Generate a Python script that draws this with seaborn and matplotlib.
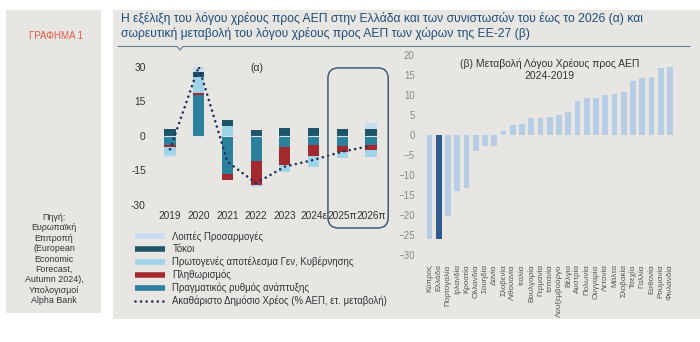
import numpy as np
import pandas as pd
import matplotlib
matplotlib.use("Agg")
import matplotlib.pyplot as plt
import seaborn as sns
from matplotlib.patches import Rectangle, FancyBboxPatch
from matplotlib.lines import Line2D

# ---- (a) debt-ratio decomposition for Greece, p.p. of GDP ----
years = ["2019", "2020", "2021", "2022", "2023", "2024ε", "2025π", "2026π"]
real_growth = [-3.9, 17.8, -16.7, -10.7, -4.6, -3.9, -4.2, -3.9]
inflation = [-1.0, 1.0, -2.5, -10.6, -8.2, -4.8, -2.6, -2.2]
primary_balance = [-3.3, 6.7, 4.5, -0.3, -2.9, -4.6, -2.9, -3.2]
interest = [2.9, 2.5, 2.5, 2.6, 3.3, 3.3, 2.9, 2.9]
other_adjustments = [-1.0, 2.0, 0.0, -0.7, 0.0, 0.0, 0.0, 2.6]
debt_change = [-5.8, 30.2, -11.2, -20.5, -13.3, -10.4, -6.8, -4.3]

# ---- (b) cumulative change of debt-to-GDP 2019-2024, EU-27 ----
countries = ["Κύπρος", "Ελλάδα", "Πορτογαλία", "Ιρλανδία", "Κροατία", "Ολλανδία",
             "Σουηδία", "Δανία", "Σλοβενία", "Λιθουανία", "Ιταλία", "Βουλγαρία",
             "Γερμανία", "Ισπανία", "Λουξεμβούργο", "Βέλγιο", "Αυστρία", "Πολωνία",
             "Ουγγαρία", "Λετονία", "Μάλτα", "Σλοβακία", "Τσεχία", "Γαλλία",
             "Εσθονία", "Ρουμανία", "Φινλανδία"]
cum_change = [-26.0, -26.0, -20.4, -13.9, -13.2, -4.1, -2.6, -2.6, 1.1, 2.6, 2.9, 4.3,
              4.3, 4.6, 5.1, 5.9, 8.6, 9.4, 9.4, 10.2, 10.4, 10.9, 13.6, 14.4,
              14.7, 16.9, 17.1]

lbl_other = "Λοιπές Προσαρμογές"
lbl_interest = "Τόκοι"
lbl_primary = "Πρωτογενές αποτέλεσμα Γεν, Κυβέρνησης"
lbl_infl = "Πληθωρισμός"
lbl_growth = "Πραγματικός ρυθμός ανάπτυξης"
lbl_debt = "Ακαθάριστο Δημόσιο Χρέος (% ΑΕΠ, ετ. μεταβολή)"

c_other = "#c8dcf0"
c_interest = "#1e5468"
c_primary = "#9fd3e7"
c_infl = "#a4292e"
c_growth = "#2b809c"
c_debt = "#1c2f5a"
c_bar = "#b7cde6"
c_greece = "#2e5a8c"
panel = "#e7e6e3"
text_dark = "#333333"

sns.set_theme(style="white")
plt.rcParams["font.family"] = ["Liberation Sans", "DejaVu Sans"]

W, H = 700, 342
fig = plt.figure(figsize=(W / 100, H / 100), dpi=100)
fig.patch.set_facecolor("white")


def fx(px):
    return px / W


def fy(py):
    return 1 - py / H


# background panels
fig.patches.append(Rectangle((fx(6), fy(313)), fx(95), (313 - 10) / H,
                             transform=fig.transFigure, facecolor=panel,
                             edgecolor="none", zorder=-10))
fig.patches.append(Rectangle((fx(113), fy(319)), fx(587), (319 - 10) / H,
                             transform=fig.transFigure, facecolor=panel,
                             edgecolor="none", zorder=-10))

fig.text(fx(56), fy(36), "ΓΡΑΦΗΜΑ 1", color="#e05a45", fontsize=7,
         ha="center", va="center")
fig.text(fx(54), fy(213), "Πηγή:\nΕυρωπαϊκή\nΕπιτροπή\n(European\nEconomic\n"
         "Forecast,\nAutumn 2024),\nΥπολογισμοί\nAlpha Bank",
         color=text_dark, fontsize=6.4, ha="center", va="top", linespacing=1.2)

fig.text(fx(121), fy(12),
         "Η εξέλιξη του λόγου χρέους προς ΑΕΠ στην Ελλάδα και των συνιστωσών του έως το 2026 (α) και\n"
         "σωρευτική μεταβολή του λόγου χρέους προς ΑΕΠ των χώρων της ΕΕ-27 (β)",
         color="#1f4e79", fontsize=8.7, ha="left", va="top", linespacing=1.18)
fig.lines.append(Line2D([fx(118), fx(177), fx(180), fx(183), fx(690)],
                        [fy(46.5), fy(46.5), fy(50), fy(46.5), fy(46.5)],
                        transform=fig.transFigure, color="#5f7c98", lw=0.8))

# ---- panel (a) ----
ax = fig.add_axes([0.2183, 0.4006, 0.3363, 0.4035])
ax.set_facecolor("none")
x = np.arange(len(years))
bw = 0.39
series = [(real_growth, c_growth), (inflation, c_infl), (primary_balance, c_primary),
          (interest, c_interest), (other_adjustments, c_other)]
pos_base = np.zeros(len(years))
neg_base = np.zeros(len(years))
for vals, col in series:
    v = np.asarray(vals, dtype=float)
    base = np.where(v >= 0, pos_base, neg_base)
    ax.bar(x, v, bottom=base, width=bw, color=col, linewidth=0, zorder=2)
    pos_base += np.clip(v, 0, None)
    neg_base += np.clip(v, None, 0)
ax.hlines(np.zeros(len(years)), x - bw / 2, x + bw / 2, color="#d8e4ec", lw=0.8, zorder=3)

sns.lineplot(x=x, y=debt_change, ax=ax, color=c_debt, lw=1.9,
             linestyle=(0, (0.01, 2.1)), dash_capstyle="round", zorder=4)

ax.set_xlim(-0.6, len(years) - 0.4)
ax.set_ylim(-30, 30)
ax.set_yticks([-30, -15, 0, 15, 30])
ax.set_yticklabels(["-30", "-15", "0", "15", "30"])
ax.set_xticks(x)
ax.set_xticklabels(years)
ax.tick_params(axis="y", length=0, pad=5, labelsize=7.4, labelcolor=text_dark)
ax.tick_params(axis="x", length=0, pad=4, labelsize=7.3, labelcolor=text_dark)
for s in ax.spines.values():
    s.set_visible(False)
ax.grid(False)
ax.text(0.44, 0.99, "(α)", transform=ax.transAxes, ha="center", va="center",
        fontsize=7.5, color=text_dark)

# forecast frame round the last two years
fig.canvas.draw()
to_fig = ax.transData + fig.transFigure.inverted()
(bx0, by0) = to_fig.transform((len(years) - 2.5, -40))
(bx1, by1) = to_fig.transform((len(years) - 0.4, 29.6))
fig.patches.append(FancyBboxPatch((bx0, by0), bx1 - bx0, by1 - by0,
                                  boxstyle="round,pad=0,rounding_size=0.015",
                                  mutation_aspect=W / H,
                                  transform=fig.transFigure, facecolor="none",
                                  edgecolor="#3f5b7b", lw=1.1, zorder=5))

handles = [Line2D([], [], color=c_other, lw=4, solid_capstyle="butt"),
           Line2D([], [], color=c_interest, lw=4, solid_capstyle="butt"),
           Line2D([], [], color=c_primary, lw=4, solid_capstyle="butt"),
           Line2D([], [], color=c_infl, lw=4, solid_capstyle="butt"),
           Line2D([], [], color=c_growth, lw=4, solid_capstyle="butt"),
           Line2D([], [], color=c_debt, lw=1.9, linestyle=(0, (0.01, 2.1)),
                  dash_capstyle="round")]
labels = [lbl_other, lbl_interest, lbl_primary, lbl_infl, lbl_growth, lbl_debt]
fig.legend(handles, labels, loc="upper left", bbox_to_anchor=(fx(135), fy(231)),
           frameon=False, fontsize=6.9, handlelength=3.1, handletextpad=0.8,
           labelspacing=0.26, borderpad=0, borderaxespad=0, labelcolor=text_dark)

# ---- panel (b) ----
axb = fig.add_axes([0.6043, 0.2553, 0.3621, 0.5825])
axb.set_facecolor("none")
df = pd.DataFrame({"country": countries, "change": cum_change})
bar_colors = [c_greece if c == "Ελλάδα" else c_bar for c in countries]
sns.barplot(data=df, x="country", y="change", hue="country", palette=bar_colors,
            legend=False, width=0.62, saturation=1, ax=axb, linewidth=0, zorder=2)
axb.set_xlim(-0.7, len(countries) - 0.3)
axb.set_ylim(-30, 20)
axb.set_yticks(range(-30, 21, 5))
axb.set_xticks(range(len(countries)))
axb.set_xticklabels(countries, rotation=90)
axb.set_xlabel("")
axb.set_ylabel("")
axb.tick_params(axis="y", length=0, pad=6, labelsize=7, labelcolor="#8a8a8a")
axb.tick_params(axis="x", length=0, pad=7, labelsize=5.8, labelcolor="#555555")
for s in axb.spines.values():
    s.set_visible(False)
axb.grid(False)
axb.text(0.5, 0.928, "(β) Μεταβολή Λόγου Χρέους προς ΑΕΠ\n2024-2019",
         transform=axb.transAxes, ha="center", va="center", fontsize=7.5,
         color=text_dark, linespacing=1.25)

fig.savefig("out.png", dpi=100, facecolor="white")
